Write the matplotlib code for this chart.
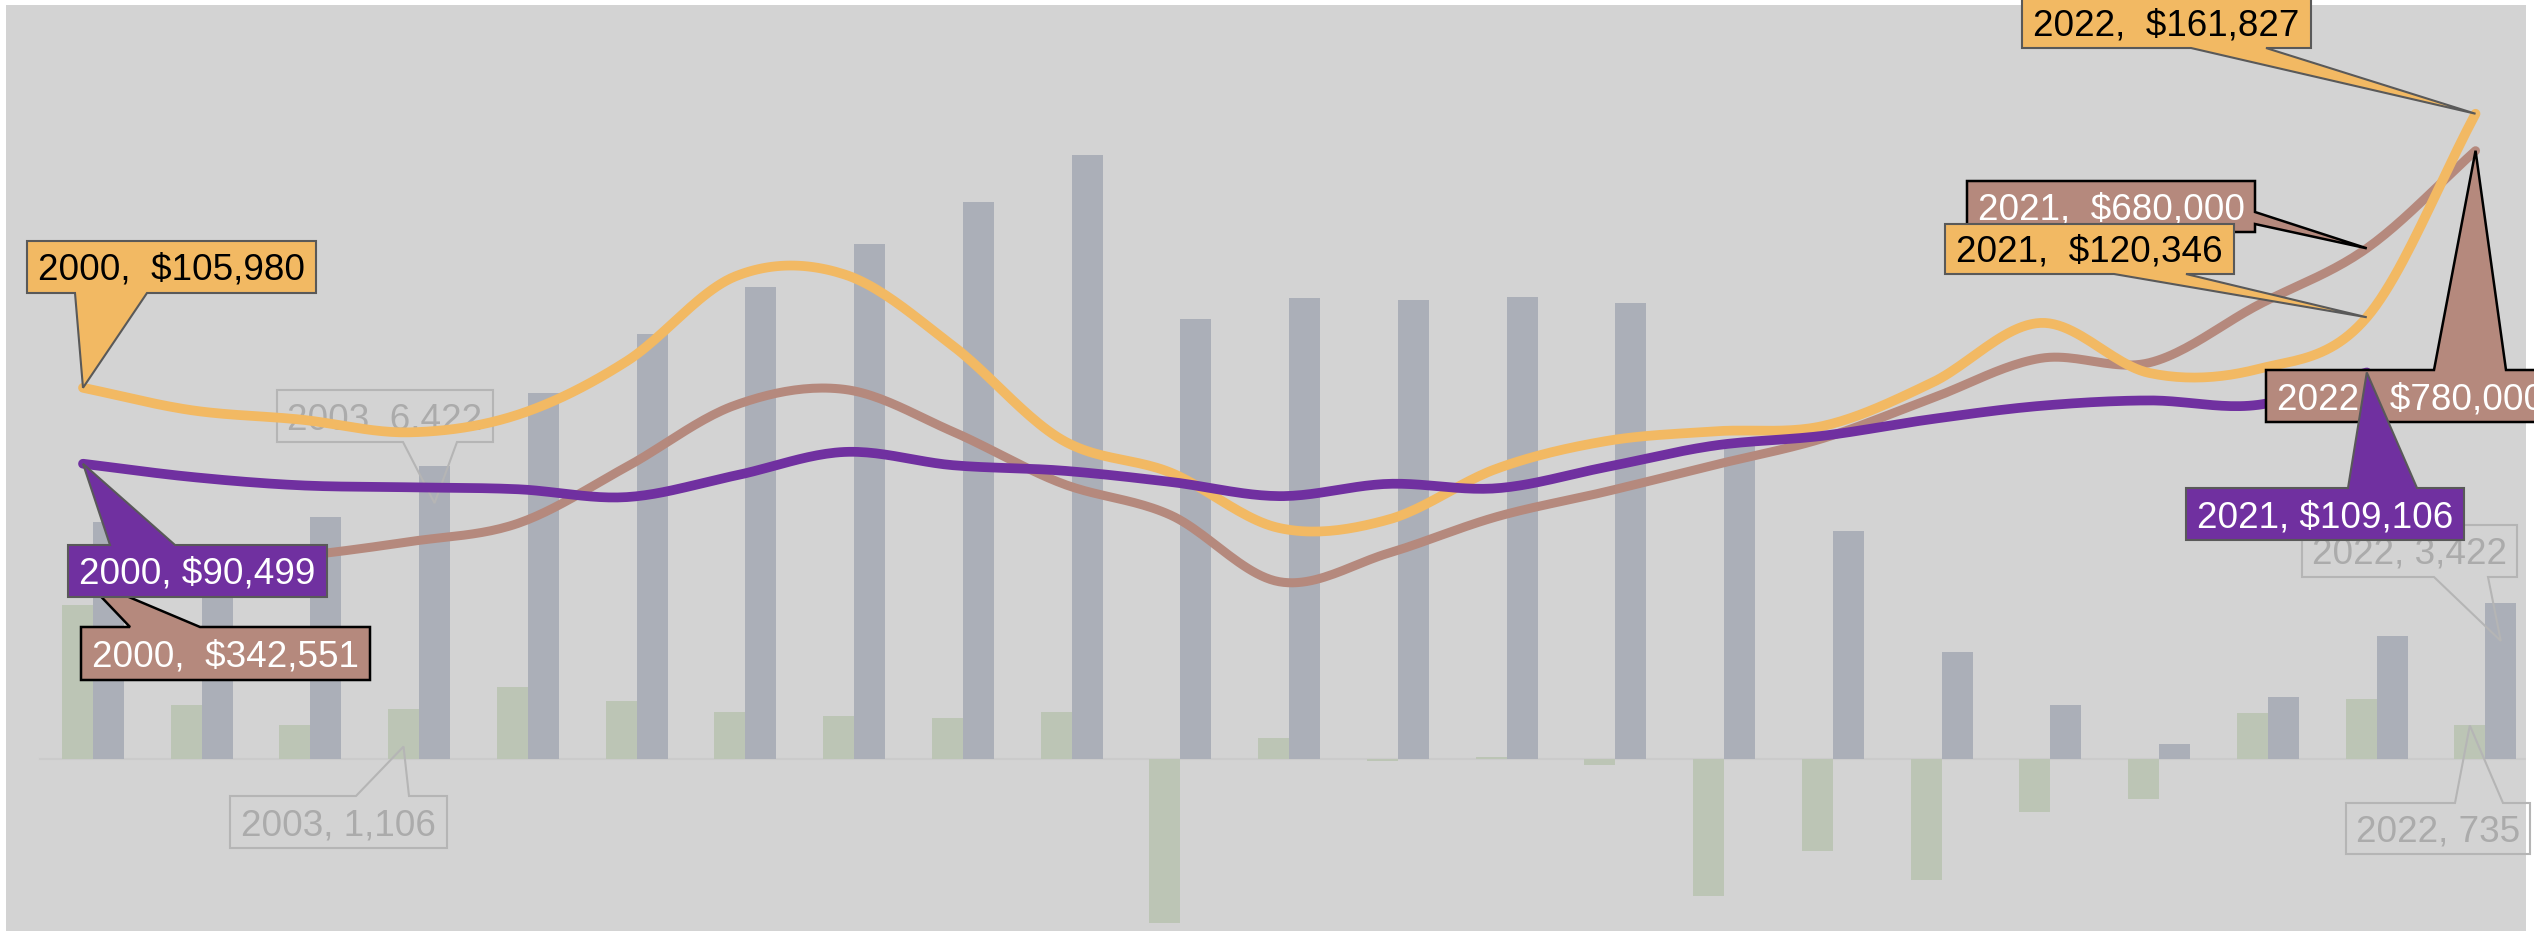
import matplotlib
matplotlib.use("Agg")
import matplotlib.pyplot as plt
import numpy as np
from matplotlib.patches import Polygon
from matplotlib.transforms import Affine2D

plt.rcParams["font.family"] = ["Liberation Sans", "DejaVu Sans"]

years = list(range(2000, 2023))

# bar series (left scale)
units = [5200, 4150, 5314, 6422, 8020, 9314, 10344, 11294, 12209, 13246, 9643, 10103,
         10059, 10125, 10000, 6900, 4993, 2347, 1184, 329, 1353, 2691, 3422]
net_change = [3377, 1178, 746, 1106, 1579, 1272, 1024, 936, 899, 1031, -3603, 454,
              -40, 45, -125, -2998, -2018, -2647, -1169, -870, 1009, 1322, 735]

# line series
income = [105980, 101400, 99500, 96900, 100500, 111400, 128700, 129100, 114500, 95400,
          88700, 77400, 79100, 89500, 95100, 97100, 98200, 107000, 119200, 109000,
          109800, 120346, 161827]
home_value = [342551, 354500, 364700, 379400, 398200, 456200, 519400, 535500, 492100,
              439200, 406700, 338400, 367500, 405000, 430600, 458000, 485300, 526300,
              567300, 562800, 621900, 680000, 780000]
earnings = [90499, 87800, 86100, 85700, 85300, 83700, 88100, 92900, 90200, 89100, 86800,
            83900, 86400, 85500, 89800, 94200, 96200, 99600, 102300, 103400, 102500,
            109106]

BG = "#D3D3D3"
C_UNITS = "#ABAFB8"
C_CHANGE = "#BCC5B5"
C_INCOME = "#F2B963"
C_HOME = "#B5897D"
C_EARN = "#7030A0"
C_NOTE = "#ABABAB"

W, H = 2534, 931


def smooth(y, n=24):
    y = np.asarray(y, float)
    m = np.empty_like(y)
    m[1:-1] = (y[2:] - y[:-2]) / 2
    m[0] = y[1] - y[0]
    m[-1] = y[-1] - y[-2]
    t = np.linspace(0, 1, n, endpoint=False)
    h00 = 2 * t**3 - 3 * t**2 + 1
    h10 = t**3 - 2 * t**2 + t
    h01 = -2 * t**3 + 3 * t**2
    h11 = t**3 - t**2
    xs, ys = [], []
    for i in range(len(y) - 1):
        xs.append(i + t)
        ys.append(h00 * y[i] + h10 * m[i] + h01 * y[i + 1] + h11 * m[i + 1])
    xs.append([len(y) - 1])
    ys.append([y[-1]])
    return np.concatenate(xs), np.concatenate(ys)


def bare(a):
    a.set_xticks([])
    a.set_yticks([])
    for s in a.spines.values():
        s.set_visible(False)


fig = plt.figure(figsize=(W / 100, H / 100), dpi=100)
ax = fig.add_axes([6 / W, 0, 2520 / W, 926 / H])
ax.set_facecolor(BG)
bare(ax)

x = np.arange(len(years))
xlim = (-0.708, 22.464)
bw = 0.285
shift = 0.09

ax.bar(x + shift - bw / 2, net_change, width=bw, color=C_CHANGE, zorder=2)
ax.bar(x + shift + bw / 2, units, width=bw, color=C_UNITS, zorder=2)
ax.axhline(0, xmin=34 / 2520, xmax=1, color="#CBCBCB", lw=1.5, zorder=1)
ax.set_xlim(*xlim)
ax.set_ylim(-3772, 16535)

ax_home = ax.twinx()
bare(ax_home)
ax_home.set_ylim(-19467, 929312)
xs, ys = smooth(home_value)
ax_home.plot(xs, ys, color=C_HOME, lw=6.5, solid_capstyle="round", zorder=3)

ax_inc = ax.twinx()
bare(ax_inc)
ax_inc.set_ylim(-4728, 183991)
xs, ys = smooth(income)
ax_inc.plot(xs, ys, color=C_INCOME, lw=7, solid_capstyle="round", zorder=3)
xs, ys = smooth(earnings)
ax_inc.plot(xs, ys, color=C_EARN, lw=7, solid_capstyle="round", zorder=4)

for a in (ax, ax_home, ax_inc):
    a.set_xlim(*xlim)

# pixel space with the origin at the top-left corner
img = Affine2D().scale(1, -1).translate(0, H)


def to_img(a, px, py):
    dx, dy = a.transData.transform((px, py))
    return dx, H - dy


def callout(a, tip, box, side, base, text, fc, ec, tc, lw=1.5, z=10):
    x0, y0, x1, y1 = box
    p, q = base
    if side == "bottom":
        pts = [(x0, y0), (x1, y0), (x1, y1), (q, y1), tip, (p, y1), (x0, y1)]
    elif side == "top":
        pts = [(x0, y0), (p, y0), tip, (q, y0), (x1, y0), (x1, y1), (x0, y1)]
    else:
        pts = [(x0, y0), (x1, y0), (x1, p), tip, (x1, q), (x1, y1), (x0, y1)]
    a.add_patch(Polygon(pts, closed=True, fc=fc, ec=ec, lw=lw, joinstyle="miter",
                        transform=img, clip_on=False, zorder=z))
    a.text((x0 + x1) / 2, (y0 + y1) / 2 + 13, text, transform=img, ha="center",
           va="baseline", fontsize=26.6, color=tc, clip_on=False, zorder=z + 0.1)


def money(i, v, gap="  "):
    return f"{years[i]},{gap}${v:,}"


fig.canvas.draw()

# grey callouts on the bars
tx, ty = to_img(ax, 3 + shift + bw / 2, units[3])
callout(ax, (tx, ty + 37), (277, 390, 493, 442), "bottom", (403, 457),
        f"{years[3]}, {units[3]:,}", "none", "#B5B5B5", C_NOTE, z=3)
tx, ty = to_img(ax, 3 + shift - bw / 2, net_change[3])
callout(ax, (tx, ty + 38), (230, 796, 447, 848), "top", (356, 409),
        f"{years[3]}, {net_change[3]:,}", "none", "#B5B5B5", C_NOTE, z=3)
tx, ty = to_img(ax, 22 + shift + bw / 2, units[22])
callout(ax, (tx, ty + 38), (2302, 525, 2517, 577), "bottom", (2434, 2488),
        f"{years[22]}, {units[22]:,}", "none", "#B5B5B5", C_NOTE, z=3)
tx, ty = to_img(ax, 22 + shift - bw / 2, net_change[22])
callout(ax, (tx, ty), (2346, 803, 2530, 854), "top", (2455, 2503),
        f"{years[22]}, {net_change[22]:,}", "none", "#B5B5B5", C_NOTE, z=3)

# coloured callouts on the lines
callout(ax_inc, to_img(ax_home, 0, home_value[0]), (81, 627, 370, 680), "top", (130, 200),
        money(0, home_value[0]), C_HOME, "black", "white", lw=1.8, z=10)
callout(ax_inc, to_img(ax_inc, 0, earnings[0]), (68, 545, 327, 597), "top", (110, 175),
        money(0, earnings[0], " "), C_EARN, "#595959", "white", z=11)
callout(ax_inc, to_img(ax_inc, 0, income[0]), (27, 241, 316, 293), "bottom", (75, 147),
        money(0, income[0]), C_INCOME, "#595959", "black", z=11)
callout(ax_inc, to_img(ax_inc, 22, income[22]), (2022, -4, 2311, 48), "bottom", (2191, 2266),
        money(22, income[22]), C_INCOME, "#595959", "black", z=11)
callout(ax_inc, to_img(ax_home, 21, home_value[21]), (1967, 181, 2255, 232), "right", (212, 224),
        money(21, home_value[21]), C_HOME, "black", "white", lw=1.8, z=12)
callout(ax_inc, to_img(ax_inc, 21, income[21]), (1945, 224, 2234, 274), "bottom", (2114, 2186),
        money(21, income[21]), C_INCOME, "#595959", "black", z=13)
callout(ax_inc, to_img(ax_home, 22, home_value[22]), (2266, 370, 2555, 422), "top", (2434, 2506),
        money(22, home_value[22]), C_HOME, "black", "white", lw=1.8, z=12)
callout(ax_inc, to_img(ax_inc, 21, earnings[21]), (2186, 488, 2464, 540), "top", (2348, 2417),
        money(21, earnings[21], " "), C_EARN, "#595959", "white", z=14)

fig.savefig("out.png", dpi=100, facecolor="white")
